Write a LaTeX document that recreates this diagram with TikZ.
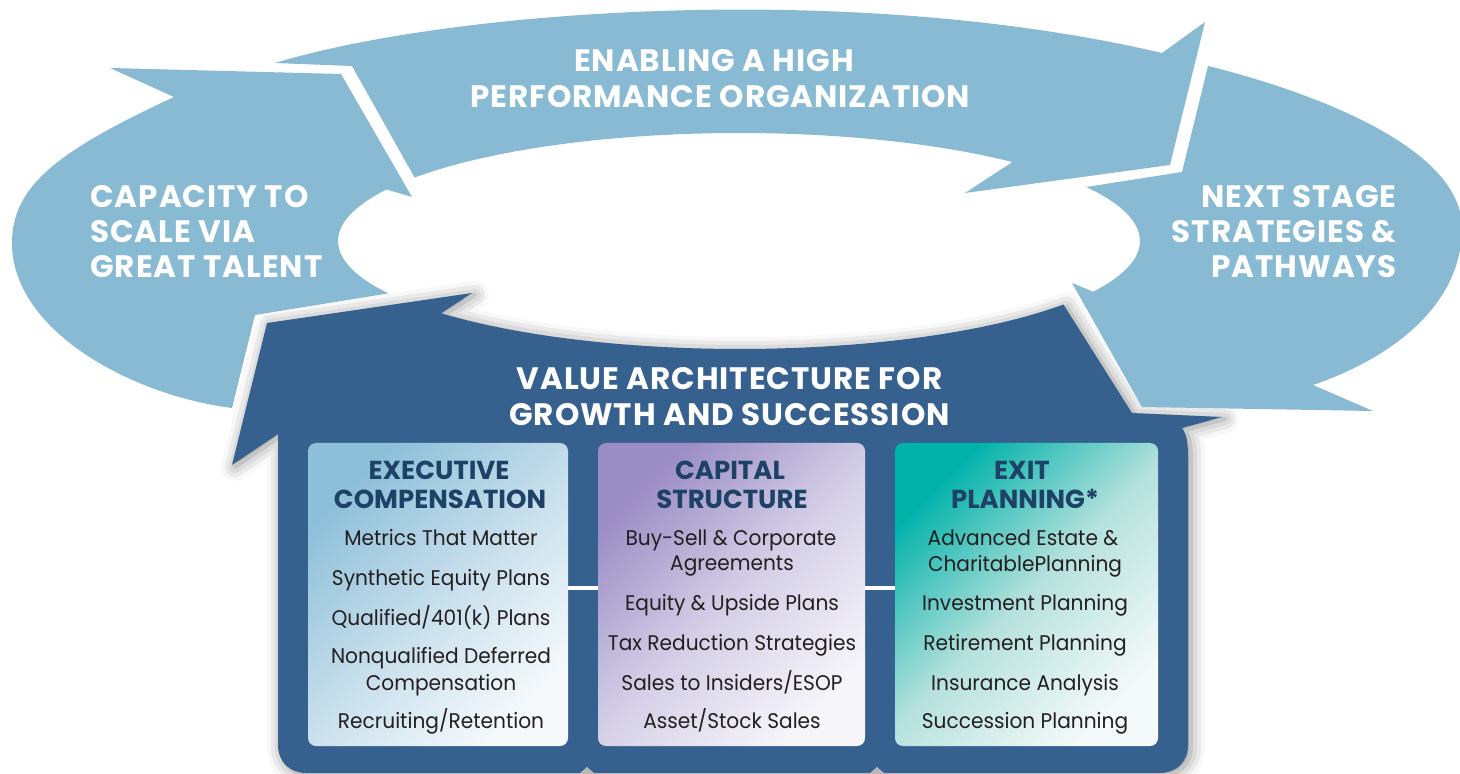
\documentclass[tikz,border=0pt]{standalone}
\usepackage{fontspec}
\setmainfont{Poppins}
\newfontfamily\headfont{Poppins}[LetterSpace=3]
\newfontfamily\itemfont{Poppins}[FakeStretch=0.95]
\usetikzlibrary{shadows.blur}
\definecolor{cLight}{HTML}{88BAD4}
\definecolor{cDark}{HTML}{36618F}
\definecolor{cNavy}{HTML}{1E4166}
\definecolor{cItem}{HTML}{231F20}
\definecolor{bOneA}{HTML}{8DBFD9}
\definecolor{bOneM}{HTML}{C6DEEB}
\definecolor{bOneB}{HTML}{F5F9FC}
\definecolor{bTwoA}{HTML}{9A8CC4}
\definecolor{bTwoM}{HTML}{D3CEE6}
\definecolor{bTwoB}{HTML}{F6F5FA}
\definecolor{bThrA}{HTML}{00B2A9}
\definecolor{bThrM}{HTML}{B5E1DC}
\definecolor{bThrB}{HTML}{F4FAF9}
\begin{document}
\begin{tikzpicture}[x=0.5pt,y=-0.5pt,
  ringarrow/.style={fill=cLight},
  mainarrow/.style={fill=cDark, blur shadow={shadow xshift=1.5pt, shadow yshift=-1pt, shadow blur radius=7pt, shadow opacity=45}},
  bighead/.style={text=white, font=\headfont\bfseries\fontsize{15.5}{17.5}\selectfont, inner sep=0pt},
  boxhead/.style={text=cNavy, font=\bfseries\fontsize{13}{15}\selectfont, inner sep=0pt, anchor=base},
  itemtxt/.style={text=cItem, font=\itemfont\fontsize{10.6}{12}\selectfont, inner sep=0pt, anchor=base},
  boxshape/.style={rectangle, rounded corners=4pt, minimum height=151.5pt, inner sep=0pt},
  linkline/.style={draw=white, line width=1.6pt}]
\useasboundingbox (0,0) rectangle (1460,774);
% dark front arrow
\path[mainarrow] (267,323) -- (472,293)
  -- plot[domain=138:36,samples=60] ({739+401*cos(\x)},{241+108*sin(\x)})
  -- (1132,413) -- (1222,417) -- (1182,428)
  .. controls (1188,436) and (1188,448) .. (1188,462)
  -- (1188,745) .. controls (1188,762) and (1176,773) .. (1160,773)
  -- (306,773) .. controls (290,773) and (278,762) .. (278,745)
  -- (278,434) -- (232,465) -- cycle;
% left arrow
\path[ringarrow] (110,68) -- (341,74) -- (412,197)
  -- plot[domain=208.5:151,samples=40] ({739+401*cos(\x)},{241+108*sin(\x)})
  -- (255,315) -- (232,408)
  .. controls (130,395) and (12,330) .. (12,243)
  .. controls (12,185) and (60,150) .. (174,97) -- cycle;
% top arrow
\path[ringarrow] (275,63) .. controls (450,10) and (850,-20) .. (1162,53)
  -- (1205,22) -- (1170,165) -- (965,193)
  -- plot[domain=313:216,samples=60] ({739+401*cos(\x)},{241+108*sin(\x)})
  -- (352,66) -- cycle;
% right arrow
\path[ringarrow] (1208,66) .. controls (1285,85) and (1462,140) .. (1462,228)
  .. controls (1462,300) and (1400,355) .. (1313,385)
  -- (1373,411) -- (1142,407) -- (1072,283)
  -- plot[domain=28:-30,samples=40] ({739+401*cos(\x)},{241+108*sin(\x)})
  -- (1182,172) -- cycle;
% small shadow tips at the bottom
\fill[gray!55] (579,774) -- (587,767) -- (595,774) -- cycle;
\fill[gray!55] (869,774) -- (877,767) -- (885,774) -- cycle;
% ring labels
\node[bighead, anchor=base] (top1) at (714,72) {ENABLING A HIGH};
\node[bighead, anchor=base] (top2) at (720,108) {PERFORMANCE ORGANIZATION};
\node[bighead, anchor=base west] (cap1) at (90,208) {CAPACITY TO};
\node[bighead, anchor=base west] (cap2) at (90,243) {SCALE VIA};
\node[bighead, anchor=base west] (cap3) at (90,278) {GREAT TALENT};
\node[bighead, anchor=base east] (nxt1) at (1397,208) {NEXT STAGE};
\node[bighead, anchor=base east] (nxt2) at (1397,243) {STRATEGIES \&};
\node[bighead, anchor=base east] (nxt3) at (1397,278) {PATHWAYS};
\node[bighead, anchor=base] (val1) at (729.5,390) {VALUE ARCHITECTURE FOR};
\node[bighead, anchor=base] (val2) at (729.5,426) {GROWTH AND SUCCESSION};
% boxes
\node[boxshape, minimum width=130pt, top color=bOneA, bottom color=bOneB, middle color=bOneM, shading angle=45] (box1) at (438,594.5) {};
\node[boxshape, minimum width=133.5pt, top color=bTwoA, bottom color=bTwoB, middle color=bTwoM, shading angle=45] (box2) at (731.5,594.5) {};
\node[boxshape, minimum width=131.5pt, top color=bThrA, bottom color=bThrB, middle color=bThrM, shading angle=45] (box3) at (1026.5,594.5) {};
\draw[linkline] ([yshift=3.25pt]box1.east) -- ([yshift=3.25pt]box2.west);
\draw[linkline] ([yshift=3.25pt]box2.east) -- ([yshift=3.25pt]box3.west);
% box 1
\node[boxhead] (h11) at (439,480) {EXECUTIVE};
\node[boxhead] (h12) at (440,509) {COMPENSATION};
\node[itemtxt] (i11) at (441,545) {Metrics That Matter};
\node[itemtxt] (i12) at (441,585) {Synthetic Equity Plans};
\node[itemtxt] (i13) at (441,625) {Qualified/401(k) Plans};
\node[itemtxt] (i14) at (441,663) {Nonqualified Deferred};
\node[itemtxt] (i15) at (441,690) {Compensation};
\node[itemtxt] (i16) at (441,728) {Recruiting/Retention};
% box 2
\node[boxhead] (h21) at (730,480) {CAPITAL};
\node[boxhead] (h22) at (732,509) {STRUCTURE};
\node[itemtxt] (i21) at (731,545) {Buy-Sell \& Corporate};
\node[itemtxt] (i22) at (732,570) {Agreements};
\node[itemtxt] (i23) at (732,610) {Equity \& Upside Plans};
\node[itemtxt] (i24) at (732,650) {Tax Reduction Strategies};
\node[itemtxt] (i25) at (732,690) {Sales to Insiders/ESOP};
\node[itemtxt] (i26) at (732,728) {Asset/Stock Sales};
% box 3
\node[boxhead] (h31) at (1022,480) {EXIT};
\node[boxhead] (h32) at (1025,509) {PLANNING*};
\node[itemtxt] (i31) at (1023,545) {Advanced Estate \&};
\node[itemtxt] (i32) at (1025,571) {CharitablePlanning};
\node[itemtxt] (i33) at (1025,610) {Investment Planning};
\node[itemtxt] (i34) at (1025,650) {Retirement Planning};
\node[itemtxt] (i35) at (1025,690) {Insurance Analysis};
\node[itemtxt] (i36) at (1025,728) {Succession Planning};
\end{tikzpicture}
\end{document}
